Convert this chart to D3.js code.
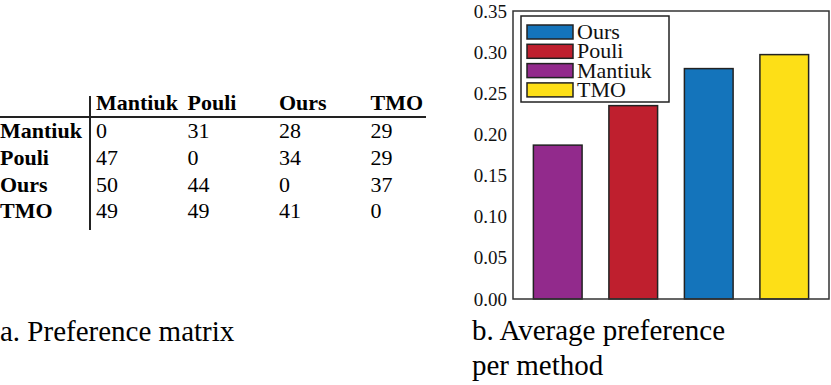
<!DOCTYPE html>
<html>
<head>
<meta charset="utf-8">
<script src="https://cdn.jsdelivr.net/npm/d3@7"></script>
</head>
<body style="margin:0">
<script>
const methods = ["Mantiuk", "Pouli", "Ours", "TMO"];
// rows of the preference matrix (row method vs column method)
const prefMantiuk = [0, 31, 28, 29];
const prefPouli = [47, 0, 34, 29];
const prefOurs = [50, 44, 0, 37];
const prefTMO = [49, 49, 41, 0];
const matrix = [prefMantiuk, prefPouli, prefOurs, prefTMO];

// average preference per method (same order as methods)
const avgPref = [0.187, 0.235, 0.280, 0.297];
const legendOrder = ["Ours", "Pouli", "Mantiuk", "TMO"];
const yTicks = [0, 0.05, 0.10, 0.15, 0.20, 0.25, 0.30, 0.35];
const colors = {Ours: "#1474bb", Pouli: "#bf1f2e", Mantiuk: "#922a8c", TMO: "#fddf17"};

const FONT = "'Liberation Serif', Tinos, 'Times New Roman', serif";
const W = 831, H = 385;
const svg = d3.select("body").append("svg")
	.attr("width", W)
	.attr("height", H)
	.attr("font-family", FONT)
	.style("font-family", FONT);

// ---- a. table ----
const tbl = svg.append("g");
const colX = d3.scaleBand().domain(methods).range([96, 462]);
const rowY = d3.scaleBand().domain(methods).range([125, 232]);

tbl.selectAll(".hdr")
	.data(methods)
	.join("text")
		.attr("x", d => colX(d))
		.attr("y", 110)
		.style("font-family", FONT)
		.style("font-size", "22px")
		.style("font-weight", "bold")
		.text(d => d);

tbl.selectAll(".rowlab")
	.data(methods)
	.join("text")
		.attr("x", 0)
		.attr("y", d => rowY(d) + 13)
		.style("font-family", FONT)
		.style("font-size", "22px")
		.style("font-weight", "bold")
		.text(d => d);

matrix.forEach((row, i) => {
	tbl.append("g").selectAll("text")
		.data(row)
		.join("text")
			.attr("x", (d, j) => colX(methods[j]))
			.attr("y", rowY(methods[i]) + 13)
			.style("font-family", FONT)
			.style("font-size", "22px")
			.text(d => d);
});

tbl.append("line")
	.attr("x1", 0).attr("x2", 426)
	.attr("y1", 117).attr("y2", 117)
	.attr("stroke", "#222").attr("stroke-width", 2);
tbl.append("line")
	.attr("x1", 90).attr("x2", 90)
	.attr("y1", 96).attr("y2", 230)
	.attr("stroke", "#222").attr("stroke-width", 2);

svg.append("text")
	.attr("x", 0).attr("y", 341)
	.style("font-family", FONT)
	.style("font-size", "29px")
	.text("a. Preference matrix");

// ---- b. bar chart ----
const pL = 513, pR = 829, pT = 11, pB = 299;
const x = d3.scaleBand()
	.domain(methods)
	.range([pL, pR])
	.paddingInner(0.355)
	.paddingOuter(0.27);
const y = d3.scaleLinear()
	.domain([0, 0.35])
	.range([pB, pT]);

svg.append("g")
	.attr("transform", `translate(${pL},0)`)
	.call(d3.axisLeft(y).tickValues(yTicks).tickFormat(d3.format(".2f")).tickSize(0).tickPadding(6))
	.attr("font-family", FONT)
	.call(g => g.select(".domain").remove())
	.call(g => g.selectAll("text")
		.style("font-family", FONT)
		.style("font-size", "19px")
		.attr("fill", "#111"));

svg.append("g")
	.selectAll("rect")
	.data(methods)
	.join("rect")
		.attr("x", d => x(d))
		.attr("y", (d, i) => y(avgPref[i]))
		.attr("width", x.bandwidth())
		.attr("height", (d, i) => y(0) - y(avgPref[i]))
		.attr("fill", d => colors[d])
		.attr("stroke", "#222")
		.attr("stroke-width", 1.5);

svg.append("rect")
	.attr("x", pL).attr("y", pT)
	.attr("width", pR - pL).attr("height", pB - pT)
	.attr("fill", "none")
	.attr("stroke", "#333")
	.attr("stroke-width", 1.5);

// legend
const lg = svg.append("g").attr("transform", "translate(521,16)");
lg.append("rect")
	.attr("width", 148).attr("height", 86)
	.attr("fill", "#fff")
	.attr("stroke", "#222")
	.attr("stroke-width", 1.5);
const item = lg.selectAll(".item")
	.data(legendOrder)
	.join("g")
		.attr("transform", (d, i) => `translate(6,${9 + i * 19.3})`);
item.append("rect")
	.attr("width", 46).attr("height", 14)
	.attr("fill", d => colors[d])
	.attr("stroke", "#222")
	.attr("stroke-width", 1.5);
item.append("text")
	.attr("x", 50).attr("y", 14)
	.style("font-family", FONT)
	.style("font-size", "22px")
	.attr("fill", "#111")
	.text(d => d);

const cap = svg.append("text")
	.attr("x", 472).attr("y", 340)
	.style("font-family", FONT)
	.style("font-size", "29px");
cap.append("tspan").attr("x", 472).text("b. Average preference");
cap.append("tspan").attr("x", 472).attr("dy", 35).text("per method");
</script>
</body>
</html>
